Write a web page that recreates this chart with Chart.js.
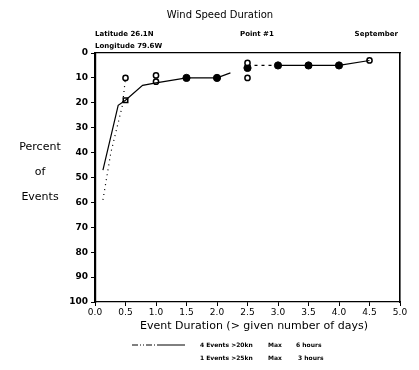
<!DOCTYPE html>
<html>
<head>
<meta charset="utf-8">
<script src="https://cdn.jsdelivr.net/npm/chart.js@4"></script>
<style>
  body { margin: 0; background: #fff; }
  #wrap { width: 419px; height: 370px; position: relative; }
</style>
</head>
<body>
<div id="wrap"><canvas id="windChart"></canvas></div>
<script>
/* Wind speed duration - percent of events vs event duration (days) */

/* data */
var solidDays = [0.13, 0.38, 0.5, 0.78, 1.0, 1.5, 2.0, 2.22];
var solidPct  = [47, 21, 19, 13, 12, 10, 10, 8];
var tailDays  = [2.5, 3.0, 3.5, 4.0, 4.5];
var tailPct   = [5, 5, 5, 5, 3];
var dotDays   = [0.13, 0.26, 0.38, 0.45, 0.5];
var dotPct    = [59, 40, 28, 21, 10];
var openDays  = [0.5, 1.0, 1.0, 2.5, 2.5, 4.5];
var openPct   = [10, 9, 11.5, 10, 4, 3];
var fillDays  = [1.5, 2.0, 2.5, 3.0, 3.5, 4.0];
var fillPct   = [10, 10, 6, 5, 5, 5];
var boxDays   = [0.5];
var boxPct    = [19];
var yTicks    = [0, 10, 20, 30, 40, 50, 60, 70, 80, 90, 100];
var xTicks    = [0, 0.5, 1, 1.5, 2, 2.5, 3, 3.5, 4, 4.5, 5];

function pts(xs, ys) {
    return xs.map((x, i) => ({ x: x, y: ys[i] }));
}

/* text around the plot */
const annotations = {
    id: 'annotations',
    afterDraw(chart) {
        const ctx = chart.ctx;
        ctx.save();
        ctx.fillStyle = '#000';
        ctx.textBaseline = 'middle';

        ctx.textAlign = 'center';
        ctx.font = '10px "DejaVu Sans"';
        ctx.fillText('Wind Speed Duration', 220, 15);

        ctx.textAlign = 'left';
        ctx.font = 'bold 7px "DejaVu Sans"';
        ctx.fillText('Latitude 26.1N', 95, 34);
        ctx.fillText('Longitude 79.6W', 95, 46);
        ctx.fillText('Point #1', 240, 34);
        ctx.textAlign = 'right';
        ctx.fillText('September', 398, 34);

        ctx.textAlign = 'center';
        ctx.font = '11px "DejaVu Sans"';
        ctx.fillText('Percent', 40, 147);
        ctx.fillText('of', 40, 172);
        ctx.fillText('Events', 40, 197);

        ctx.fillText('Event Duration (> given number of days)', 254, 326);

        // legend rows
        ctx.strokeStyle = '#000';
        ctx.lineWidth = 1;
        ctx.setLineDash([6, 2, 1, 2, 1, 2]);
        ctx.beginPath(); ctx.moveTo(132, 345); ctx.lineTo(158, 345); ctx.stroke();
        ctx.setLineDash([]);
        ctx.beginPath(); ctx.moveTo(158, 345); ctx.lineTo(185, 345); ctx.stroke();

        ctx.textAlign = 'left';
        ctx.font = 'bold 6px "DejaVu Sans"';
        ctx.fillText('4 Events >20kn', 200, 345);
        ctx.fillText('Max', 268, 345);
        ctx.fillText('6 hours', 296, 345);
        ctx.fillText('1 Events >25kn', 200, 358);
        ctx.fillText('Max', 268, 358);
        ctx.fillText('3 hours', 298, 358);
        ctx.restore();
    }
};

const ctx = document.getElementById('windChart').getContext('2d');
const windChart = new Chart(ctx, {
    type: 'scatter',
    data: {
        datasets: [
            {   // main curve
                data: pts(solidDays, solidPct),
                showLine: true,
                borderColor: '#000',
                borderWidth: 1.2,
                pointRadius: 0
            },
            {   // longer durations
                data: pts(tailDays, tailPct),
                showLine: true,
                borderColor: '#000',
                borderWidth: 1.2,
                pointRadius: 0,
                segment: {
                    borderDash: c => c.p0DataIndex === 0 ? [3, 4] : undefined
                }
            },
            {   // dotted curve
                data: pts(dotDays, dotPct),
                showLine: true,
                borderColor: '#000',
                borderWidth: 1.2,
                borderDash: [1, 4],
                pointRadius: 0
            },
            {   // open markers
                data: pts(openDays, openPct),
                showLine: false,
                pointRadius: 2.6,
                pointBorderWidth: 1.5,
                pointBorderColor: '#000',
                pointBackgroundColor: '#fff'
            },
            {   // filled markers
                data: pts(fillDays, fillPct),
                showLine: false,
                pointRadius: 3.6,
                pointBorderWidth: 1,
                pointBorderColor: '#000',
                pointBackgroundColor: '#000'
            },
            {   // box marker
                data: pts(boxDays, boxPct),
                showLine: false,
                pointStyle: 'rect',
                pointRadius: 3.2,
                pointBorderWidth: 1.5,
                pointBorderColor: '#000',
                pointBackgroundColor: '#fff'
            }
        ]
    },
    options: {
        responsive: true,
        maintainAspectRatio: false,
        animation: false,
        layout: { padding: { left: 0, top: 53, right: 19, bottom: 48 } },
        plugins: {
            legend: { display: false },
            title: { display: false },
            tooltip: { enabled: false }
        },
        scales: {
            x: {
                type: 'linear',
                min: 0,
                max: 5,
                afterBuildTicks: s => { s.ticks = xTicks.map(v => ({ value: v })); },
                afterFit: s => { s.height = 20; },
                ticks: {
                    color: '#000',
                    padding: 1,
                    font: { family: 'DejaVu Sans', size: 9 },
                    callback: v => v.toFixed(1)
                },
                grid: { drawOnChartArea: false, tickLength: 4, color: '#000', lineWidth: 1 },
                border: { display: true, color: '#000', width: 1.2, dash: [9, 3, 2, 3] }
            },
            y: {
                min: 0,
                max: 100,
                reverse: true,
                afterBuildTicks: s => { s.ticks = yTicks.map(v => ({ value: v })); },
                afterFit: s => { s.width = 95; },
                ticks: {
                    color: '#000',
                    padding: 3,
                    font: { family: 'DejaVu Sans', size: 9, weight: 'bold' }
                },
                grid: { drawOnChartArea: false, tickLength: 4, color: '#000', lineWidth: 1 },
                border: { display: true, color: '#000', width: 2.2 }
            },
            x2: {
                type: 'linear',
                position: 'top',
                min: 0,
                max: 5,
                afterFit: s => { s.height = 0; },
                ticks: { display: false },
                grid: { display: false, drawTicks: false },
                border: { display: true, color: '#000', width: 1.2, dash: [12, 3, 3, 3] }
            },
            y2: {
                position: 'right',
                min: 0,
                max: 100,
                reverse: true,
                afterFit: s => { s.width = 0; },
                ticks: { display: false },
                grid: { display: false, drawTicks: false },
                border: { display: true, color: '#000', width: 1.6 }
            }
        }
    },
    plugins: [annotations]
});
</script>
</body>
</html>
